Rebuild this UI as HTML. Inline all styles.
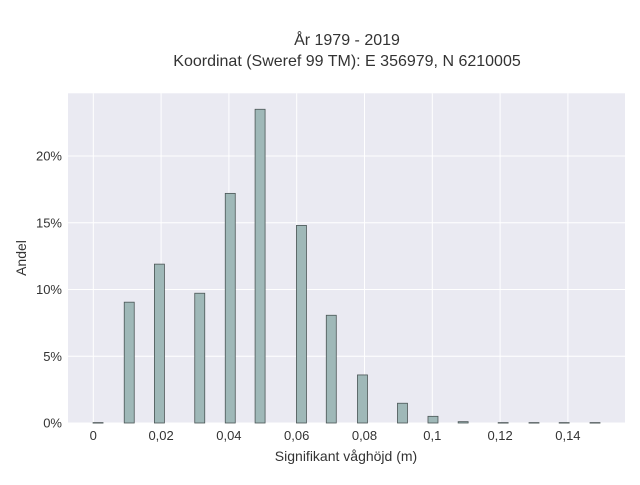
<!DOCTYPE html>
<html><head><meta charset="utf-8"><style>
body{margin:0;background:#fff;font-family:"Liberation Sans",sans-serif}
svg text{font-family:"Liberation Sans",sans-serif;fill:#333}
</style></head><body>
<svg width="640" height="480" xmlns="http://www.w3.org/2000/svg">
<text x="347" y="45" text-anchor="middle" font-size="16">År 1979 - 2019</text>
<text x="347" y="66" text-anchor="middle" font-size="16">Koordinat (Sweref 99 TM): E 356979, N 6210005</text>
<rect x="68" y="93.3" width="557" height="329.7" fill="#eaeaf2"/>
<g id="grid"></g><g id="bars"></g><g id="ticks"></g>
<text x="346" y="461" text-anchor="middle" font-size="14">Signifikant våghöjd (m)</text>
<text x="26" y="258" text-anchor="middle" font-size="14" transform="rotate(-90 26 258)">Andel</text>
</svg>
<script>
const binCenters=[0.0014,0.0106,0.0195,0.0314,0.0404,0.0492,0.0614,0.0702,0.0794,0.0912,0.1002,0.1091,0.1209,0.1300,0.1389,0.148];
const shares=[0.03,9.05,11.9,9.72,17.2,23.5,14.8,8.07,3.6,1.48,0.5,0.1,0.03,0.03,0.03,0.03];
const xTicks=[0,0.02,0.04,0.06,0.08,0.1,0.12,0.14];
const xTickLabels=["0","0,02","0,04","0,06","0,08","0,1","0,12","0,14"];
const yTicks=[0,5,10,15,20];
const yTickLabels=["0%","5%","10%","15%","20%"];
const barWidth=0.00295;
const NS="http://www.w3.org/2000/svg";
const X=v=>93.3+v*3390, Y=p=>423-p*13.35;
function mk(t,a){const e=document.createElementNS(NS,t);for(const k in a)e.setAttribute(k,a[k]);return e;}
const g=document.getElementById('grid'),b=document.getElementById('bars'),tk=document.getElementById('ticks');
xTicks.forEach((v,i)=>{
 const l=mk('line',{x1:X(v),x2:X(v),y1:93.3,y2:423,stroke:'#fff','stroke-width':1});
 
 
 g.appendChild(l);
 const t=mk('text',{x:X(v),y:440,'text-anchor':'middle','font-size':13});
 
 
 t.textContent=xTickLabels[i];tk.appendChild(t);
});
yTicks.forEach((p,i)=>{
 const l=mk('line',{x1:68,x2:625,y1:Y(p),y2:Y(p),stroke:'#fff','stroke-width':1});
 
 
 g.appendChild(l);
 const t=mk('text',{x:62,y:Y(p)+4.5,'text-anchor':'end','font-size':13});
 
 
 t.textContent=yTickLabels[i];tk.appendChild(t);
});
binCenters.forEach((c,i)=>{
 const x0=X(c-barWidth/2),x1=X(c+barWidth/2),y=Y(shares[i]);
 const r=mk('rect',{x:x0,y:y,width:x1-x0,height:Math.max(423-y,0.5),fill:'#9fb8b8',stroke:'#4a5555','stroke-width':0.8});
 
 
 b.appendChild(r);
});
</script>
</body></html>
